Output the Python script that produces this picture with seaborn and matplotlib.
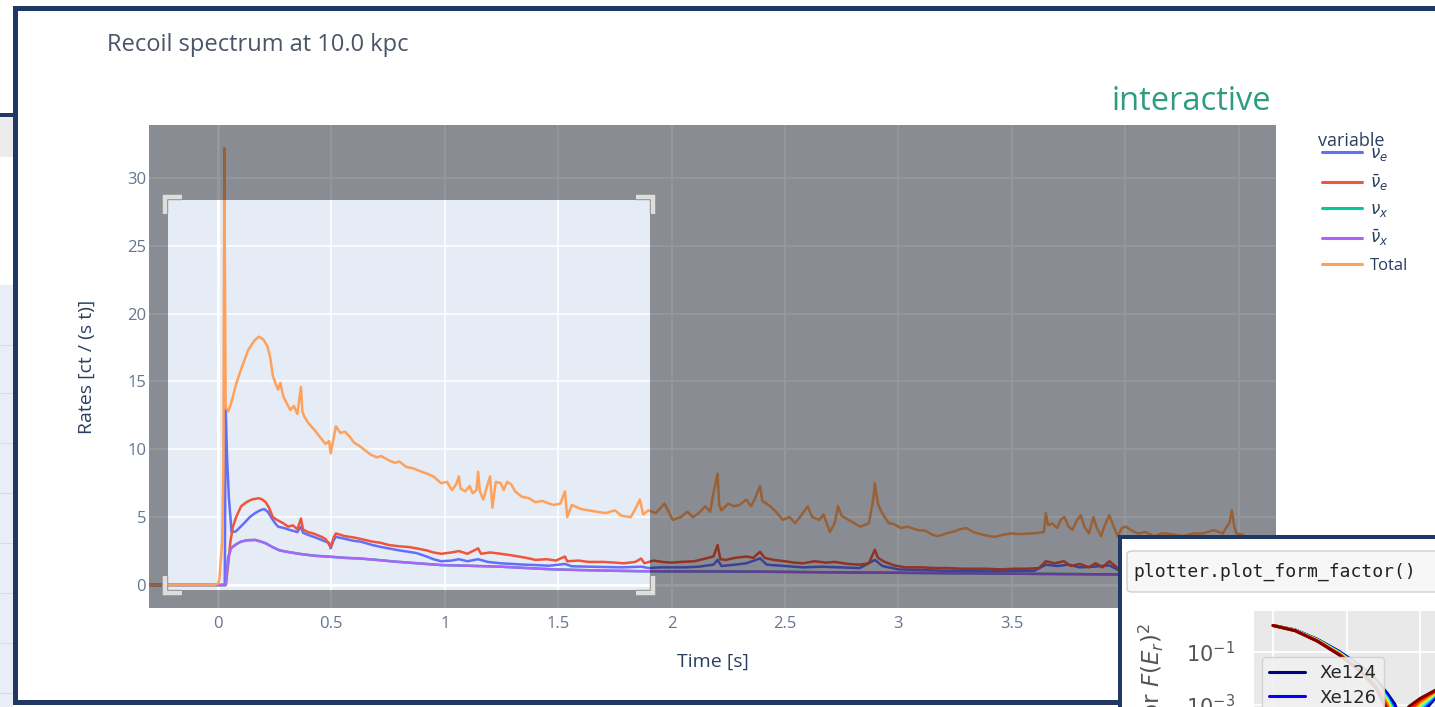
import numpy as np
import pandas as pd
import matplotlib
matplotlib.use("Agg")
import matplotlib.pyplot as plt
import matplotlib.patheffects as pe
from matplotlib.patches import Rectangle, FancyBboxPatch
import seaborn as sns

# ---------------- data ----------------
TITLE = "Recoil spectrum at 10.0 kpc"
X_LABEL = "Time [s]"
Y_LABEL = "Rates [ct / (s t)]"
LEGEND_TITLE = "variable"
series_names = [r"$\nu_e$", r"$\bar{\nu}_e$", r"$\nu_x$", r"$\bar{\nu}_x$", "Total"]
series_colors = ["#636EFA", "#EF553B", "#00CC96", "#AB63FA", "#FFA15A"]

# (time [s], rate) pairs
nu_e_points = [(-0.30, 0), (0.03, 0), (0.034, 13.1), (0.040, 9.5), (0.048, 6.5), (0.06, 3.9),
    (0.079, 3.95), (0.10, 4.3), (0.118, 4.6), (0.14, 5.0), (0.164, 5.3), (0.185, 5.5), (0.203, 5.6),
    (0.22, 5.4), (0.234, 5.0), (0.25, 4.6), (0.265, 4.3), (0.29, 4.2), (0.319, 4.05), (0.35, 3.9),
    (0.366, 4.3), (0.375, 3.85), (0.396, 3.7), (0.43, 3.5), (0.46, 3.3), (0.49, 3.1), (0.497, 2.7),
    (0.51, 3.3), (0.52, 3.55), (0.56, 3.4), (0.60, 3.25), (0.628, 3.2), (0.68, 2.95), (0.72, 2.8),
    (0.752, 2.7), (0.80, 2.55), (0.84, 2.45), (0.876, 2.35), (0.92, 2.1), (0.95, 1.9), (0.984, 1.75),
    (1.03, 1.8), (1.062, 1.9), (1.10, 1.75), (1.147, 1.9), (1.19, 1.7), (1.247, 1.6), (1.30, 1.55),
    (1.35, 1.5), (1.40, 1.47), (1.46, 1.42), (1.53, 1.55), (1.56, 1.38), (1.634, 1.35), (1.70, 1.33),
    (1.78, 1.3), (1.866, 1.35), (1.90, 1.25), (1.95, 1.3), (2.00, 1.3), (2.06, 1.3), (2.12, 1.35),
    (2.185, 1.5), (2.203, 1.85), (2.22, 1.4), (2.28, 1.5), (2.33, 1.6), (2.39, 1.96), (2.42, 1.5),
    (2.50, 1.4), (2.58, 1.3), (2.66, 1.35), (2.74, 1.3), (2.83, 1.25), (2.896, 1.85), (2.93, 1.4),
    (3.0, 1.15), (3.1, 1.1), (3.2, 1.05), (3.3, 1.05), (3.4, 1.0), (3.5, 1.05), (3.6, 1.05),
    (3.65, 1.5), (3.70, 1.4), (3.75, 1.5), (3.80, 1.3), (3.86, 1.35), (3.93, 1.45), (3.97, 1.1)]

nu_e_bar_points = [(-0.30, 0), (0.035, 0), (0.045, 1.5), (0.055, 3.2), (0.066, 4.3), (0.08, 5.0),
    (0.102, 5.8), (0.125, 6.1), (0.149, 6.3), (0.18, 6.4), (0.195, 6.3), (0.211, 6.1), (0.225, 5.7),
    (0.242, 5.0), (0.26, 4.8), (0.288, 4.55), (0.31, 4.3), (0.33, 4.4), (0.35, 4.1), (0.366, 4.9),
    (0.375, 4.1), (0.396, 3.9), (0.42, 3.8), (0.45, 3.6), (0.474, 3.4), (0.497, 2.8), (0.51, 3.5),
    (0.52, 3.8), (0.56, 3.6), (0.60, 3.5), (0.628, 3.4), (0.68, 3.2), (0.72, 3.1), (0.752, 2.95),
    (0.80, 2.85), (0.84, 2.8), (0.876, 2.7), (0.92, 2.55), (0.95, 2.4), (0.984, 2.3), (1.03, 2.4),
    (1.062, 2.5), (1.10, 2.3), (1.147, 2.7), (1.16, 2.3), (1.20, 2.4), (1.247, 2.3), (1.29, 2.2),
    (1.325, 2.1), (1.36, 2.0), (1.40, 1.85), (1.45, 1.9), (1.49, 1.8), (1.53, 2.1), (1.54, 1.75),
    (1.59, 1.8), (1.634, 1.7), (1.70, 1.7), (1.75, 1.65), (1.789, 1.6), (1.84, 1.7), (1.866, 1.95),
    (1.88, 1.6), (1.92, 1.8), (1.96, 1.7), (2.00, 1.65), (2.04, 1.7), (2.10, 1.75), (2.149, 1.95),
    (2.185, 2.1), (2.203, 2.95), (2.215, 1.9), (2.24, 1.85), (2.28, 2.0), (2.33, 2.1), (2.36, 2.0),
    (2.39, 2.45), (2.41, 2.0), (2.45, 1.85), (2.50, 1.75), (2.54, 1.65), (2.58, 1.6), (2.63, 1.75),
    (2.68, 1.65), (2.72, 1.7), (2.78, 1.55), (2.83, 1.5), (2.87, 1.6), (2.896, 2.6), (2.91, 2.0),
    (2.94, 1.7), (2.98, 1.45), (3.03, 1.3), (3.10, 1.3), (3.16, 1.25), (3.21, 1.25), (3.28, 1.2),
    (3.34, 1.2), (3.39, 1.2), (3.45, 1.15), (3.51, 1.2), (3.57, 1.2), (3.62, 1.25), (3.65, 1.75),
    (3.69, 1.6), (3.73, 1.75), (3.76, 1.4), (3.80, 1.55), (3.84, 1.3), (3.87, 1.6), (3.90, 1.3),
    (3.93, 1.75), (3.967, 1.25), (4.0, 1.3)]

nu_x_bar_points = [(-0.30, 0), (0.034, 0), (0.045, 2.0), (0.057, 2.7), (0.08, 3.0), (0.102, 3.2),
    (0.13, 3.3), (0.164, 3.32), (0.19, 3.2), (0.211, 3.07), (0.24, 2.8), (0.272, 2.55), (0.32, 2.4),
    (0.366, 2.28), (0.43, 2.15), (0.497, 2.08), (0.56, 2.0), (0.628, 1.95), (0.70, 1.85),
    (0.783, 1.72), (0.88, 1.6), (0.984, 1.47), (1.10, 1.42), (1.247, 1.35), (1.36, 1.25),
    (1.48, 1.15), (1.60, 1.1), (1.71, 1.06), (1.85, 1.02), (2.0, 1.0), (2.2, 1.0), (2.4, 0.98),
    (2.6, 0.95), (2.8, 0.92), (3.0, 0.9), (3.2, 0.87), (3.4, 0.85), (3.6, 0.82), (3.8, 0.8),
    (3.97, 0.78)]

# nu_x is not visible: it lies exactly beneath the nu_x_bar trace
nu_x_points = list(nu_x_bar_points)

total_points = [(-0.30, 0), (-0.02, 0.0), (0.0, 0.1), (0.006, 0.4), (0.019, 3.3), (0.024, 8.5),
    (0.028, 32.2), (0.034, 13.1), (0.046, 12.8), (0.06, 13.5), (0.08, 14.8), (0.102, 15.9),
    (0.133, 17.3), (0.16, 18.0), (0.18, 18.3), (0.20, 18.1), (0.218, 17.6), (0.23, 16.8),
    (0.242, 15.4), (0.255, 14.8), (0.265, 14.4), (0.275, 14.9), (0.288, 13.9), (0.30, 13.5),
    (0.319, 12.9), (0.335, 13.2), (0.35, 12.6), (0.366, 14.6), (0.372, 12.8), (0.381, 12.4),
    (0.40, 11.9), (0.427, 11.4), (0.45, 10.9), (0.474, 10.4), (0.49, 10.6), (0.497, 9.7),
    (0.51, 10.8), (0.52, 11.7), (0.54, 11.2), (0.56, 11.3), (0.582, 10.9), (0.60, 10.5),
    (0.628, 10.2), (0.65, 9.9), (0.675, 9.6), (0.70, 9.4), (0.72, 9.5), (0.752, 9.2), (0.78, 9.0),
    (0.80, 9.1), (0.83, 8.7), (0.86, 8.6), (0.89, 8.4), (0.922, 8.2), (0.95, 8.0), (0.984, 7.5),
    (1.01, 7.6), (1.031, 7.0), (1.05, 7.4), (1.062, 8.0), (1.07, 7.1), (1.09, 6.9), (1.11, 7.3),
    (1.123, 6.75), (1.14, 7.0), (1.147, 8.35), (1.155, 6.9), (1.17, 6.3), (1.185, 7.2), (1.20, 8.0),
    (1.21, 5.7), (1.225, 7.6), (1.247, 7.5), (1.26, 7.0), (1.275, 7.6), (1.294, 7.4), (1.31, 6.9),
    (1.34, 6.5), (1.37, 6.4), (1.40, 6.1), (1.43, 6.2), (1.46, 6.0), (1.48, 5.9), (1.51, 6.0),
    (1.53, 6.9), (1.54, 5.0), (1.56, 5.9), (1.60, 5.6), (1.634, 5.5), (1.67, 5.4), (1.71, 5.3),
    (1.75, 5.5), (1.78, 5.1), (1.82, 5.0), (1.84, 5.6), (1.86, 6.3), (1.875, 5.2), (1.897, 5.5),
    (1.93, 5.3), (1.969, 6.0), (2.005, 4.8), (2.04, 5.0), (2.07, 5.4), (2.094, 5.0), (2.12, 5.3),
    (2.149, 5.8), (2.17, 5.4), (2.185, 6.8), (2.203, 8.2), (2.21, 5.9), (2.22, 5.5), (2.25, 6.0),
    (2.275, 5.8), (2.30, 5.9), (2.33, 6.3), (2.35, 5.8), (2.366, 6.3), (2.39, 7.3), (2.40, 6.2),
    (2.436, 5.8), (2.46, 5.4), (2.49, 4.8), (2.52, 5.0), (2.545, 4.55), (2.57, 5.1), (2.60, 5.8),
    (2.62, 5.0), (2.652, 4.8), (2.67, 5.2), (2.698, 3.9), (2.72, 4.6), (2.734, 5.8), (2.75, 5.1),
    (2.78, 4.8), (2.80, 4.6), (2.833, 4.3), (2.87, 4.55), (2.89, 6.4), (2.896, 7.5), (2.91, 6.0),
    (2.922, 5.5), (2.94, 5.0), (2.958, 4.55), (2.98, 4.5), (3.01, 4.2), (3.04, 4.3), (3.085, 4.05),
    (3.12, 4.0), (3.15, 3.7), (3.175, 3.6), (3.21, 3.8), (3.246, 3.95), (3.27, 4.1), (3.30, 4.2),
    (3.33, 3.9), (3.373, 3.7), (3.40, 3.6), (3.426, 3.55), (3.46, 3.7), (3.498, 3.8), (3.54, 3.75),
    (3.588, 3.8), (3.62, 3.85), (3.642, 3.9), (3.65, 5.3), (3.66, 4.4), (3.678, 4.55), (3.70, 4.2),
    (3.715, 4.8), (3.732, 5.0), (3.75, 4.3), (3.768, 4.05), (3.785, 4.7), (3.804, 5.15), (3.82, 4.3),
    (3.84, 3.8), (3.86, 5.0), (3.875, 4.2), (3.894, 3.6), (3.91, 4.4), (3.93, 5.15), (3.95, 4.3),
    (3.967, 3.56), (3.985, 4.2), (4.003, 4.3), (4.03, 4.0), (4.057, 3.8), (4.09, 3.9), (4.128, 3.6),
    (4.16, 3.8), (4.182, 3.8), (4.22, 3.7), (4.254, 3.6), (4.30, 3.8), (4.344, 3.8), (4.39, 4.05),
    (4.43, 3.8), (4.46, 4.6), (4.47, 5.5), (4.48, 4.4), (4.49, 3.8), (4.52, 3.7)]

x_ticks = [0, 0.5, 1, 1.5, 2, 2.5, 3, 3.5, 4, 4.5]
x_tick_labels = ["0", "0.5", "1", "1.5", "2", "2.5", "3", "3.5", "4", "4.5"]
y_ticks = [0, 5, 10, 15, 20, 25, 30]
y_tick_labels = ["0", "5", "10", "15", "20", "25", "30"]
x_range = (-0.304, 4.665)
y_range = (-1.695, 33.9)
selection_time = (-0.22, 1.905)
selection_rate = (-0.37, 28.37)

# ---- small overlapping screenshot (form factor plot), partly visible ----
CODE_TEXT = "plotter.plot_form_factor()"
FF_YLABEL = r"Form factor $F(E_r)^2$"
ff_isotopes = ["Xe124", "Xe126", "Xe128", "Xe129", "Xe130", "Xe131", "Xe132", "Xe134", "Xe136"]
ff_energy = [0, 6, 12, 18, 24, 28, 31, 33, 35, 37, 40, 44, 50, 56, 62]
ff_log_xe124 = [0.0, -0.17, -0.52, -0.98, -1.55, -2.05, -2.55, -2.95, -3.6, -4.9, -3.4, -2.75, -2.4, -2.3, -2.4]
ff_log_xe126 = [0.0, -0.17, -0.53, -1.00, -1.58, -2.10, -2.62, -3.05, -3.8, -4.6, -3.3, -2.7, -2.38, -2.3, -2.4]
ff_log_xe128 = [0.0, -0.18, -0.54, -1.02, -1.61, -2.14, -2.70, -3.18, -4.1, -4.2, -3.2, -2.65, -2.35, -2.28, -2.4]
ff_log_xe129 = [0.0, -0.18, -0.55, -1.03, -1.63, -2.17, -2.75, -3.28, -4.4, -3.9, -3.1, -2.6, -2.33, -2.27, -2.4]
ff_log_xe130 = [0.0, -0.18, -0.55, -1.04, -1.65, -2.20, -2.80, -3.40, -4.7, -3.7, -3.0, -2.58, -2.32, -2.27, -2.4]
ff_log_xe131 = [0.0, -0.19, -0.56, -1.05, -1.67, -2.23, -2.86, -3.55, -4.4, -3.5, -2.95, -2.55, -2.3, -2.26, -2.4]
ff_log_xe132 = [0.0, -0.19, -0.57, -1.07, -1.69, -2.26, -2.93, -3.75, -4.0, -3.35, -2.9, -2.52, -2.29, -2.26, -2.4]
ff_log_xe134 = [0.0, -0.19, -0.58, -1.09, -1.72, -2.31, -3.05, -4.2, -3.6, -3.2, -2.82, -2.48, -2.27, -2.25, -2.4]
ff_log_xe136 = [0.0, -0.20, -0.59, -1.11, -1.76, -2.37, -3.2, -4.9, -3.4, -3.05, -2.75, -2.45, -2.25, -2.25, -2.4]
ff_curves = [ff_log_xe124, ff_log_xe126, ff_log_xe128, ff_log_xe129, ff_log_xe130,
             ff_log_xe131, ff_log_xe132, ff_log_xe134, ff_log_xe136]

# ---------------- style ----------------
sns.set_style("darkgrid")
plt.rcParams["font.family"] = ["Open Sans", "DejaVu Sans"]
plt.rcParams["mathtext.fontset"] = "dejavusans"

W, H = 1435, 707
def fx(px):
    return px / W
def fy(py):
    return 1 - py / H

NAVY = "#203864"
TXT = "#2a3f5f"
TICK = "#66768e"

fig = plt.figure(figsize=(W / 100, H / 100), dpi=100)
fig.patch.set_facecolor("white")

# ---------------- main plot ----------------
ax = fig.add_axes([fx(149), fy(608), (1276 - 149) / W, (608 - 125) / H])
ax.set_facecolor("#E5ECF6")

frames = []
for name, pts in zip(series_names, [nu_e_points, nu_e_bar_points, nu_x_points, nu_x_bar_points, total_points]):
    t, r = zip(*pts)
    frames.append(pd.DataFrame({"Time": t, "Rate": r, "variable": name}))
df = pd.concat(frames, ignore_index=True)

sns.lineplot(data=df, x="Time", y="Rate", hue="variable", hue_order=series_names,
             palette=dict(zip(series_names, series_colors)), estimator=None, sort=False,
             linewidth=1.8, ax=ax, zorder=3)

ax.set_xlim(*x_range)
ax.set_ylim(*y_range)
ax.set_xticks(x_ticks)
ax.set_xticklabels(x_tick_labels)
ax.set_yticks(y_ticks)
ax.set_yticklabels(y_tick_labels)
ax.tick_params(axis="both", length=0, labelsize=12, labelcolor=TICK)
ax.tick_params(axis="x", pad=6)
ax.tick_params(axis="y", pad=2)
ax.grid(True, color="white", linewidth=1.1)
ax.set_axisbelow(True)
ax.axhline(0, color="white", linewidth=2, zorder=1)
ax.axvline(0, color="white", linewidth=2, zorder=1)
for s in ax.spines.values():
    s.set_visible(False)

ax.set_xlabel(X_LABEL, fontsize=14, color=TXT)
ax.set_ylabel(Y_LABEL, fontsize=14, color=TXT)
ax.xaxis.set_label_coords(0.5, (608 - 662) / 483)
ax.xaxis.label.set_va("center")
ax.yaxis.set_label_coords((87 - 149) / 1127, 0.5)
ax.yaxis.label.set_va("center")

# selection: darken outside
x0, x1 = x_range
y0, y1 = y_range
sx0, sx1 = selection_time
sy0, sy1 = selection_rate
shade = dict(facecolor="black", alpha=0.4, linewidth=0, zorder=8)
ax.add_patch(Rectangle((x0, y0), sx0 - x0, y1 - y0, **shade))
ax.add_patch(Rectangle((sx1, y0), x1 - sx1, y1 - y0, **shade))
ax.add_patch(Rectangle((sx0, sy1), sx1 - sx0, y1 - sy1, **shade))
ax.add_patch(Rectangle((sx0, y0), sx1 - sx0, sy0 - y0, **shade))

# corner handles of the selection box
px_x = (x1 - x0) / 1127
px_y = (y1 - y0) / 483
arm, off = 17, 3
for cx, dx in ((sx0, 1), (sx1, -1)):
    for cy, dy in ((sy1, -1), (sy0, 1)):
        ox = cx - dx * off * px_x
        oy = cy - dy * off * px_y
        ax.plot([ox + dx * arm * px_x, ox, ox], [oy, oy, oy + dy * arm * px_y],
                color="#dedede", linewidth=3.2, solid_joinstyle="miter", solid_capstyle="butt",
                zorder=9, clip_on=False,
                path_effects=[pe.Stroke(linewidth=4.6, foreground="#8c8c8c"), pe.Normal()])

# legend (title drawn separately: in the plotly original it sits right on the first entry)
sns.move_legend(ax, "upper left", bbox_to_anchor=((1322 - 149) / 1127, (608 - 146) / 483),
                frameon=False, title="", fontsize=12,
                handlelength=2.4, handletextpad=0.45, labelspacing=0.55,
                borderaxespad=0, borderpad=0)
leg = ax.get_legend()
for txt in leg.get_texts():
    txt.set_color(TXT)
for h in leg.legend_handles:
    h.set_linewidth(2.2)
fig.text(fx(1318), fy(141), LEGEND_TITLE, ha="left", va="center", fontsize=13, color=TXT, zorder=6)

# title and annotation
fig.text(fx(107), fy(45), TITLE, ha="left", va="center", fontsize=17, color="#4a5568")
fig.text(fx(1112), fy(101), "interactive", ha="left", va="center", fontsize=23.5, color="#2e9c80")

# ---------------- slide decorations ----------------
def frect(xa, ya, xb, yb, **kw):
    fig.add_artist(Rectangle((fx(xa), fy(yb)), (xb - xa) / W, (yb - ya) / H,
                             transform=fig.transFigure, linewidth=0, **kw))

# background window at left
frect(0, 117, 13, 157, facecolor="#ececec", zorder=1)
frect(0, 285, 13, 707, facecolor="#e8eef8", zorder=1)
for yy in (345, 393, 443, 493, 543, 593, 643, 693):
    frect(0, yy, 13, yy + 1, facecolor="#d3dbe8", zorder=1)
frect(0, 113, 13, 117, facecolor=NAVY, zorder=1)

# main picture frame
frect(13, 6, 1435, 11, facecolor=NAVY, zorder=2)
frect(13, 6, 18, 705, facecolor=NAVY, zorder=2)
frect(13, 700, 1120, 705, facecolor=NAVY, zorder=2)

# overlapping picture (bottom right)
frect(1118, 535, 1435, 707, facecolor="white", zorder=4)
frect(1118, 535, 1435, 539, facecolor=NAVY, zorder=6)
frect(1118, 535, 1122, 707, facecolor=NAVY, zorder=6)
fig.add_artist(FancyBboxPatch((fx(1127), fy(592)), (1445 - 1127) / W, (592 - 551) / H,
                              boxstyle="round,pad=0,rounding_size=0.004", transform=fig.transFigure,
                              facecolor="#f7f7f7", edgecolor="#cfcfcf", linewidth=1, zorder=5))
fig.text(fx(1133), fy(572), CODE_TEXT, ha="left", va="center", fontsize=13,
         family="DejaVu Sans Mono", color="#222222", zorder=6)

axi = fig.add_axes([fx(1254), fy(761), 250 / W, 150 / H], zorder=5)
axi.set_facecolor("#e9e9e9")
ff_colors = plt.get_cmap("jet")(np.linspace(0, 1, len(ff_isotopes)))
for name, vals, col in zip(ff_isotopes, ff_curves, ff_colors):
    axi.plot(ff_energy, 10.0 ** np.asarray(vals), color=col, linewidth=2.2, label=name)
axi.set_yscale("log")
axi.set_xlim(-5.2, 62.8)
axi.set_ylim(10 ** -5.11, 10 ** 0.547)
axi.set_xticks([0, 20, 40, 60])
axi.set_yticks([1e-1, 1e-3])
axi.yaxis.set_minor_locator(matplotlib.ticker.NullLocator())
axi.grid(True, color="white", linewidth=1.3)
axi.set_axisbelow(True)
for s in axi.spines.values():
    s.set_visible(False)
axi.tick_params(axis="y", length=11, width=1.2, color="#555555", labelsize=15,
                labelcolor="#555555", pad=3, labelfontfamily="DejaVu Sans")
axi.tick_params(axis="x", length=0, labelbottom=False)
li = axi.legend(loc="upper left", bbox_to_anchor=(0.032, 0.693),
                labelspacing=0.35, facecolor="#f0f0f0", edgecolor="#d0d0d0", framealpha=0.9,
                prop={"family": "DejaVu Sans", "size": 13}, borderaxespad=0)
fig.text(fx(1151), fy(623), FF_YLABEL, rotation=90, ha="center", va="top", fontsize=16.5,
         color="#555555", family="DejaVu Sans", zorder=6)

fig.savefig("out.png", dpi=100)
